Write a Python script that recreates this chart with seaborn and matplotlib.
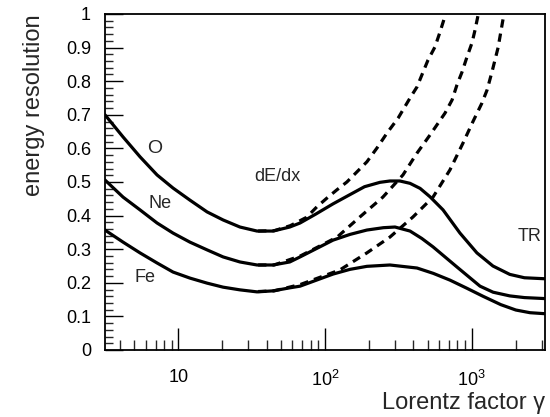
import numpy as np
import pandas as pd
import matplotlib
matplotlib.use("Agg")
import matplotlib.pyplot as plt
import matplotlib.ticker as mticker
import seaborn as sns

# Lorentz factor points and energy resolution
gamma_O = [3.16, 4.2, 5.48, 7.16, 9.2, 12.0, 15.7, 20.2, 26.3, 34.4, 44.2, 57.5, 67.6,
           86.9, 113.5, 144.5, 186, 237, 277, 324, 380, 445, 520, 638, 832, 1086, 1396,
           1820, 2290, 3162]
res_O = [0.700, 0.634, 0.575, 0.521, 0.482, 0.446, 0.411, 0.387, 0.366, 0.354, 0.354,
         0.366, 0.378, 0.405, 0.435, 0.460, 0.486, 0.499, 0.503, 0.503, 0.496, 0.481,
         0.456, 0.417, 0.348, 0.289, 0.250, 0.225, 0.215, 0.212]

gamma_Ne = [3.16, 4.2, 5.48, 7.16, 9.2, 12.0, 15.7, 20.2, 26.3, 34.4, 44.2, 57.5, 67.6,
            113.5, 148, 193, 250, 300, 380, 457, 545, 794, 1140, 1400, 1820, 2290, 3162]
res_Ne = [0.506, 0.455, 0.417, 0.378, 0.348, 0.321, 0.298, 0.277, 0.262, 0.253, 0.253,
          0.262, 0.277, 0.327, 0.344, 0.357, 0.364, 0.366, 0.354, 0.332, 0.307, 0.247,
          0.190, 0.172, 0.161, 0.156, 0.153]

gamma_Fe = [3.16, 4.2, 5.48, 7.16, 9.2, 12.0, 15.7, 20.2, 26.3, 34.4, 44.2, 57.5, 67.6,
            113.5, 148, 193, 277, 424, 548, 711, 925, 1194, 1580, 2000, 2500, 3162]
res_Fe = [0.357, 0.321, 0.289, 0.259, 0.232, 0.214, 0.199, 0.187, 0.179, 0.173, 0.176,
          0.185, 0.190, 0.226, 0.240, 0.249, 0.253, 0.244, 0.228, 0.208, 0.184, 0.160,
          0.135, 0.119, 0.111, 0.108]

# dE/dx only (dashed)
gamma_O_dedx = [35, 45, 58, 75, 88, 103, 120, 141, 165, 193, 226, 265, 315, 380, 424,
                466, 504, 562, 608, 665]
res_O_dedx = [0.354, 0.355, 0.370, 0.395, 0.426, 0.452, 0.476, 0.500, 0.530, 0.560,
              0.601, 0.646, 0.690, 0.750, 0.783, 0.827, 0.863, 0.902, 0.946, 1.000]

gamma_Ne_dedx = [35, 45, 68, 121, 173, 248, 340, 424, 520, 658, 735, 794, 859, 929,
                 1005, 1054, 1110]
res_Ne_dedx = [0.253, 0.253, 0.280, 0.336, 0.396, 0.455, 0.521, 0.586, 0.640, 0.705,
               0.744, 0.789, 0.827, 0.872, 0.914, 0.952, 1.000]

gamma_Fe_dedx = [35, 45, 68, 126, 193, 277, 398, 545, 711, 873, 1021, 1175, 1274, 1380,
                 1514, 1660]
res_Fe_dedx = [0.174, 0.176, 0.195, 0.238, 0.289, 0.336, 0.396, 0.455, 0.536, 0.616,
               0.680, 0.735, 0.774, 0.830, 0.900, 1.000]

ytick_vals = [0, 0.1, 0.2, 0.3, 0.4, 0.5, 0.6, 0.7, 0.8, 0.9, 1.0]
ytick_labels = ["0", "0.1", "0.2", "0.3", "0.4", "0.5", "0.6", "0.7", "0.8", "0.9", "1"]
xtick_vals = [10, 100, 1000]
xtick_labels = ["10", "$10^{2}$", "$10^{3}$"]

sns.set_theme(style="ticks")
plt.rcParams["font.family"] = ["Liberation Sans", "DejaVu Sans"]
plt.rcParams["mathtext.default"] = "regular"

fig = plt.figure(figsize=(5.5, 4.17), dpi=100)
ax = fig.add_axes([105 / 550, 1 - 350 / 417, 440 / 550, 336 / 417])

solid = [(gamma_O, res_O), (gamma_Ne, res_Ne), (gamma_Fe, res_Fe)]
dashed = [(gamma_O_dedx, res_O_dedx), (gamma_Ne_dedx, res_Ne_dedx),
          (gamma_Fe_dedx, res_Fe_dedx)]

for g, r in dashed:
    df = pd.DataFrame({"gamma": g, "res": r})
    sns.lineplot(data=df, x="gamma", y="res", ax=ax, color="black", lw=2.3,
                 linestyle=(0, (2.6, 1.9)), estimator=None, sort=True)
for g, r in solid:
    df = pd.DataFrame({"gamma": g, "res": r})
    sns.lineplot(data=df, x="gamma", y="res", ax=ax, color="black", lw=2.3,
                 estimator=None, sort=True)

ax.set_xscale("log")
ax.set_xlim(10 ** 0.5, 10 ** 3.5)
ax.set_ylim(0, 1)

ax.set_yticks(ytick_vals)
ax.set_yticklabels(ytick_labels)
ax.yaxis.set_minor_locator(mticker.MultipleLocator(0.02))
ax.set_xticks(xtick_vals)
ax.set_xticklabels(xtick_labels)
ax.xaxis.set_minor_locator(mticker.LogLocator(base=10, subs=np.arange(2, 10)))
ax.xaxis.set_minor_formatter(mticker.NullFormatter())

ax.tick_params(axis="y", which="major", direction="in", length=13, width=1.0,
               labelsize=13, pad=10, colors="black")
ax.tick_params(axis="y", which="minor", direction="in", length=6, width=1.0)
ax.tick_params(axis="x", which="major", direction="in", length=16, width=1.0,
               labelsize=13, pad=14, colors="black")
ax.tick_params(axis="x", which="minor", direction="in", length=7, width=1.0)

for s in ax.spines.values():
    s.set_visible(True)
    s.set_linewidth(1.3)
    s.set_color("black")

ax.set_xlabel("Lorentz factor γ", fontsize=17, loc="right", labelpad=2)
ax.set_ylabel("energy resolution", fontsize=17, loc="top", labelpad=15)

ax.text(6.9, 0.60, "O", fontsize=14, ha="center", va="center")
ax.text(7.5, 0.437, "Ne", fontsize=13, ha="center", va="center")
ax.text(5.9, 0.217, "Fe", fontsize=13, ha="center", va="center")
ax.text(47, 0.515, "dE/dx", fontsize=13, ha="center", va="center")
ax.text(3000, 0.338, "TR", fontsize=13, ha="right", va="center")

plt.savefig("out.png", dpi=100)
